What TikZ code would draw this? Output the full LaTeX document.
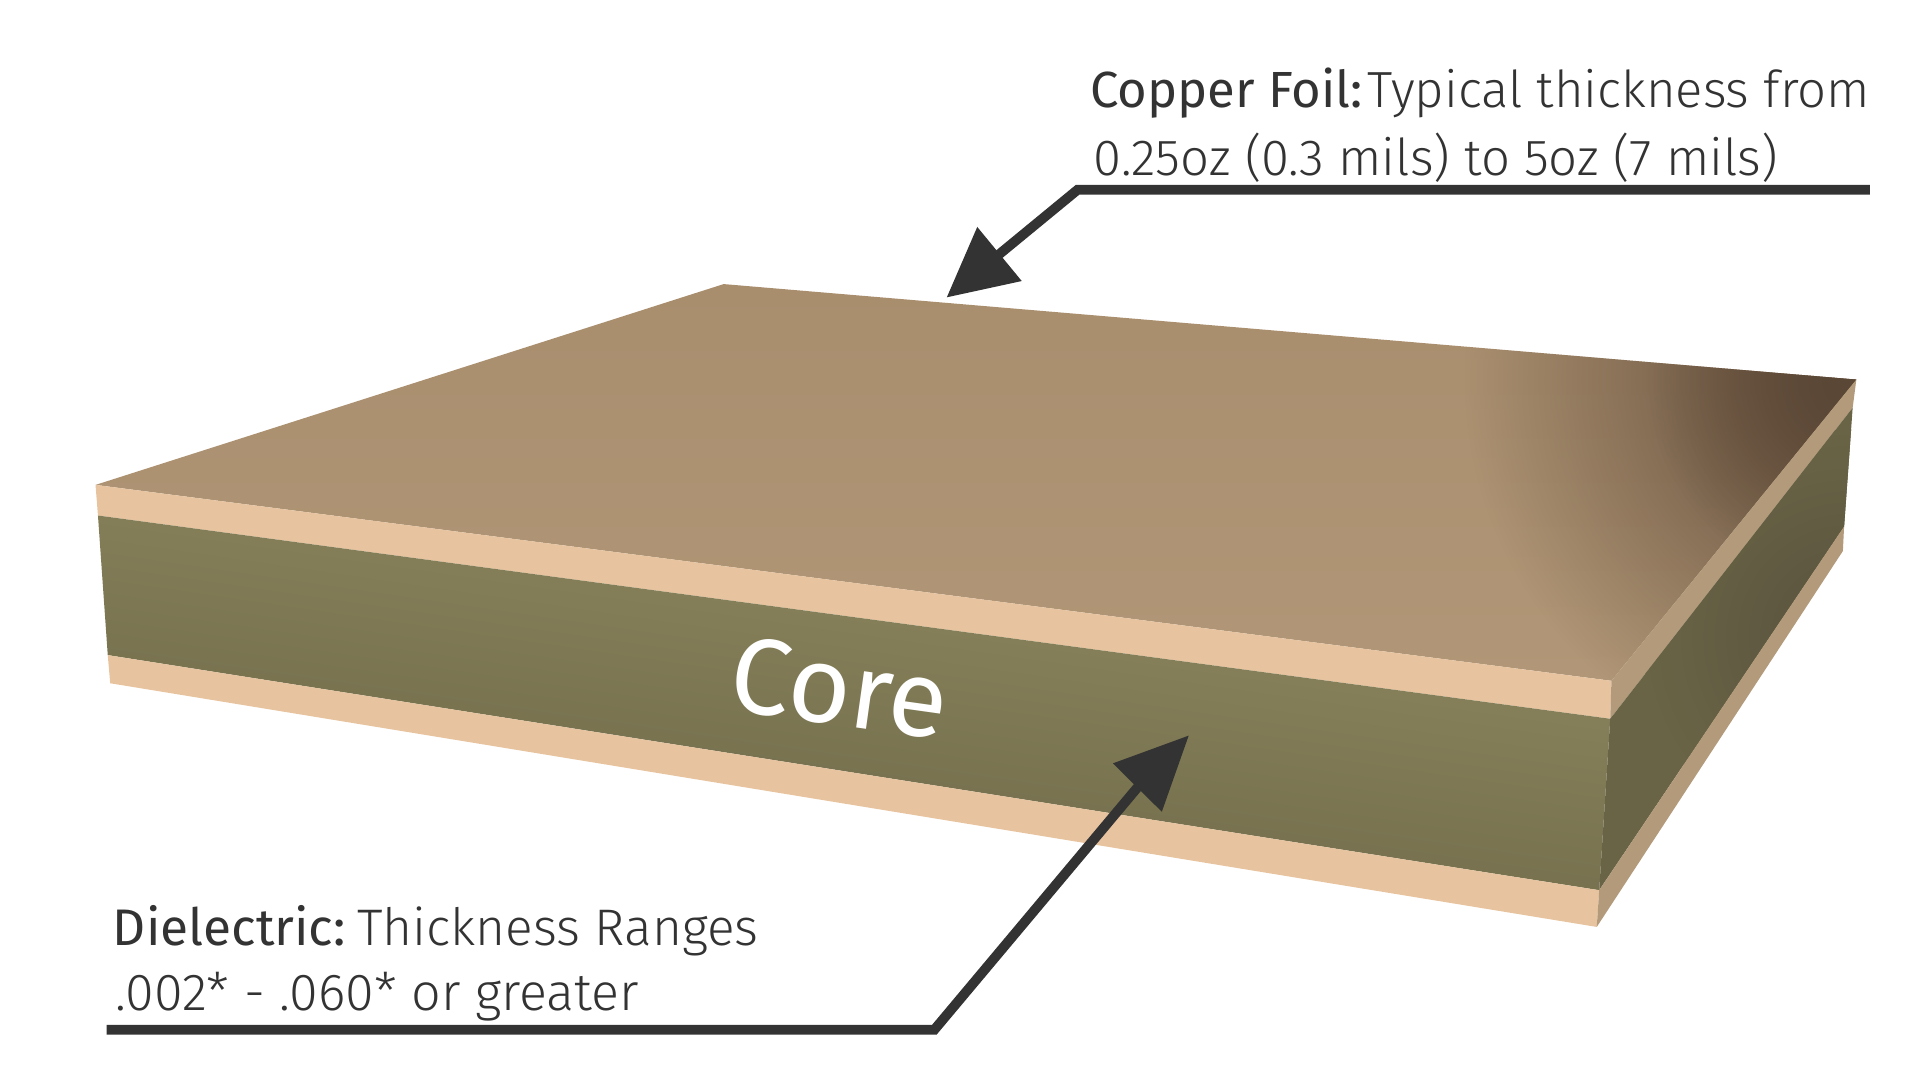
\documentclass[tikz,border=0pt]{standalone}
\usepackage{fontspec}
\setmainfont{Fira Sans Light}[BoldFont=Fira Sans]
\usepackage{xcolor}
\usetikzlibrary{arrows.meta, fadings}
\definecolor{inkgray}{HTML}{333333}
\definecolor{foilfront}{HTML}{E7C49F}
\definecolor{foilside}{HTML}{B29A7A}
\definecolor{foiltopa}{HTML}{A98E6E}
\definecolor{foiltopb}{HTML}{B19777}
\definecolor{foildark}{HTML}{5B4736}
\definecolor{corelight}{HTML}{858059}
\definecolor{coredark}{HTML}{77714F}
\definecolor{coreside}{HTML}{6A6446}
\definecolor{coresidedark}{HTML}{5C5640}
\pgfdeclareradialshading{sidecorner}{\pgfpoint{0bp}{0bp}}{
  color(0bp)=(coresidedark); color(6bp)=(coresidedark); color(25bp)=(coreside)}
\tikzfading[name=cornerfade, inner color=transparent!0, outer color=transparent!100]
\tikzset{
  labeltext/.style={anchor=base west, text=inkgray, font=\fontsize{41.5}{44}\selectfont, inner sep=0pt},
  leader/.style={draw=inkgray, line width=8pt, line join=miter}
}
\begin{document}
\begin{tikzpicture}[x=1pt,y=-1pt]
\useasboundingbox (0,0) rectangle (1568,882);

\coordinate (back) at (591,232);
\coordinate (rightA) at (1516,310);
\coordinate (rightB) at (1513,333);
\coordinate (rightC) at (1506,430);
\coordinate (rightD) at (1505,450);
\coordinate (frontA) at (1316,556);
\coordinate (frontB) at (1315,587);
\coordinate (frontC) at (1306,727);
\coordinate (frontD) at (1304,757);
\coordinate (leftA) at (78,396);
\coordinate (leftB) at (80,421);
\coordinate (leftC) at (88,535);
\coordinate (leftD) at (90,558);

\shade[top color=foiltopa, bottom color=foiltopb] (back) -- (rightA) -- (frontA) -- (leftA) -- cycle;
\begin{scope}
\clip (back) -- (rightA) -- (frontA) -- (leftA) -- cycle;
\fill[foildark, path fading=cornerfade] (rightA) circle (320);
\fill[foildark, path fading=cornerfade] (rightA) circle (170);
\end{scope}

\fill[foilfront] (leftA) -- (frontA) -- (frontB) -- (leftB) -- cycle;
\begin{scope}
\clip (leftB) -- (frontB) -- (frontC) -- (leftC) -- cycle;
\begin{scope}[transform canvas={rotate around={-8.3:(84,478)}}]
\shade[top color=corelight, bottom color=coredark] (60,403) rectangle (1340,553);
\end{scope}
\end{scope}
\fill[foilfront] (leftC) -- (frontC) -- (frontD) -- (leftD) -- cycle;

\fill[foilside] (frontA) -- (rightA) -- (rightB) -- (frontB) -- cycle;
\fill[coreside] (frontB) -- (rightB) -- (rightC) -- (frontC) -- cycle;
\begin{scope}
\clip (frontB) -- (rightB) -- (rightC) -- (frontC) -- cycle;
\shade[shading=sidecorner] (1510,520) circle (170);
\end{scope}
\fill[foilside] (frontC) -- (rightC) -- (rightD) -- (frontD) -- cycle;

\node (corelabel) [rotate=-8, text=white, font=\fontsize{88}{94}\selectfont\bfseries, inner sep=0pt] at (686,562) {Core};

\node (foilA) [labeltext] at (890,88) {\textbf{Copper Foil:}\hspace{4pt}Typical thickness from};
\node (foilB) [labeltext] at (893,143) {0.25oz (0.3 mils) to 5oz (7 mils)};
\node (dielA) [labeltext, font=\fontsize{42}{44}\selectfont] at (92,772) {\textbf{Dielectric:}\hspace{9pt}Thickness Ranges};
\node (dielB) [labeltext, font=\fontsize{42.5}{44}\selectfont] at (94,825) {.002* - .060* or greater};

\coordinate (foilstart) at (1527,155);
\coordinate (foilbend) at (880,155);
\coordinate (foiltip) at (773,243);
\coordinate (dielstart) at (87,841);
\coordinate (dielbend) at (763,841);
\coordinate (dielbase) at (929,643);
\coordinate (dieltip) at (971,600.5);

\draw[leader, -{Triangle[length=56pt,width=55pt]}] (foilstart) -- (foilbend) -- (foiltip);
\draw[leader, -{Triangle[length=60pt,width=54pt]}] (dielstart) -- (dielbend) -- (dielbase) -- (dieltip);
\end{tikzpicture}
\end{document}
